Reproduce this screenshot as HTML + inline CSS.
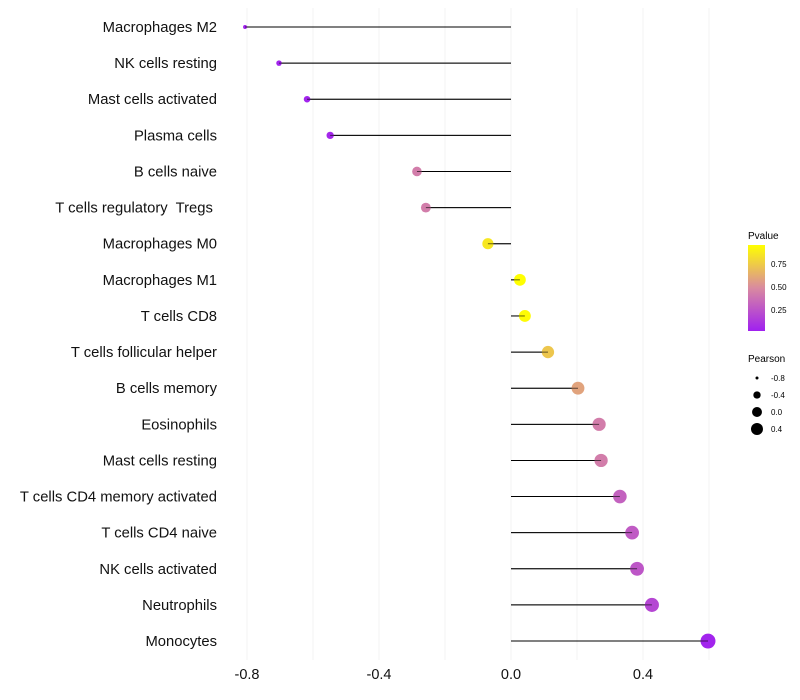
<!DOCTYPE html>
<html><head><meta charset="utf-8"><style>body{margin:0;background:#fff}svg{display:block;font-family:"Liberation Sans",sans-serif}text{white-space:pre}</style></head>
<body>
<svg id="chart" width="800" height="700" viewBox="0 0 800 700">
<defs><linearGradient id="pg" x1="0" y1="1" x2="0" y2="0">
<stop offset="0" stop-color="#a020f0"/><stop offset="0.5" stop-color="#d98aa0"/><stop offset="1" stop-color="#ffff00"/></linearGradient></defs>
<g id="grid"></g>
<g id="marks"></g>
<g id="ylab"></g>
<g id="xlab"></g>
<g>
<text x="748" y="239" font-size="10">Pvalue</text>
<rect x="748" y="245" width="17" height="86" fill="url(#pg)"/>
<text x="771" y="267" font-size="8">0.75</text>
<text x="771" y="290" font-size="8">0.50</text>
<text x="771" y="313" font-size="8">0.25</text>
</g>
<g id="sizeleg">
<text x="748" y="362" font-size="10">Pearson</text>
</g>
</svg>
<script>
const cats=["Macrophages M2","NK cells resting","Mast cells activated","Plasma cells","B cells naive","T cells regulatory  Tregs ","Macrophages M0","Macrophages M1","T cells CD8","T cells follicular helper","B cells memory","Eosinophils","Mast cells resting","T cells CD4 memory activated","T cells CD4 naive","NK cells activated","Neutrophils","Monocytes"];
const pearson=[-0.806,-0.703,-0.618,-0.548,-0.285,-0.258,-0.07,0.027,0.042,0.112,0.203,0.267,0.273,0.33,0.367,0.382,0.427,0.597];
const pvals=[0.02,0.03,0.03,0.04,0.42,0.42,0.85,0.95,0.93,0.72,0.58,0.42,0.42,0.3,0.27,0.25,0.18,0.03];
const xTicks=[-0.8,-0.4,0.0,0.4];
const xMinor=[-0.6,-0.2,0.2,0.6];
const sizeLegend=[-0.8,-0.4,0.0,0.4];
const NS="http://www.w3.org/2000/svg";
const X=v=>511+v*330, Y=i=>27+i*36.12;
const R=v=>Math.sqrt(Math.max(1,33.7+37.1*v));
const RL=v=>Math.sqrt(Math.max(1,24.75+28.1*v));
function mix(a,b,t){return a.map((c,i)=>Math.round(c+(b[i]-c)*t));}
function col(p){const t=Math.min(1,Math.max(0,(p-0.011)/(0.946-0.011)));const P=[160,32,240],M=[217,138,160],Yl=[255,255,0];const c=t<0.5?mix(P,M,t*2):mix(M,Yl,(t-0.5)*2);return `rgb(${c})`;}
function el(t,a,p){const e=document.createElementNS(NS,t);for(const k in a)e.setAttribute(k,a[k]);p.appendChild(e);return e;}
const grid=document.getElementById('grid'),marks=document.getElementById('marks'),yl=document.getElementById('ylab'),xl=document.getElementById('xlab');
xTicks.concat(xMinor).forEach(v=>{const l=el('line',{x1:X(v),x2:X(v),y1:8,y2:660,stroke:'#f3f3f3','stroke-width':1},grid);

});
xTicks.forEach(v=>{const t=el('text',{x:X(v),y:679,'font-size':14.5,'text-anchor':'middle',fill:'#111'},xl);t.textContent=v.toFixed(1);

});
cats.forEach((c,i)=>{
const t=el('text',{x:217,y:Y(i)+5,'font-size':14.8,'text-anchor':'end',fill:'#111'},yl);t.textContent=c;


const l=el('line',{x1:X(0),x2:X(pearson[i]),y1:Y(i),y2:Y(i),stroke:'#000','stroke-width':1},marks);


const d=el('circle',{cx:X(pearson[i]),cy:Y(i),r:R(pearson[i]),fill:col(pvals[i])},marks);


const l2=el('line',{x1:X(0),x2:X(pearson[i]),y1:Y(i),y2:Y(i),stroke:'#000','stroke-width':1,'stroke-opacity':0.6},marks);


});
const sl=document.getElementById('sizeleg');
sizeLegend.forEach((v,i)=>{const y=378+i*17;
const c=el('circle',{cx:757,cy:y,r:RL(v),fill:'#000'},sl);


const t=el('text',{x:771,y:y+3,'font-size':8},sl);t.textContent=v.toFixed(1);

});
</script>
</body></html>
